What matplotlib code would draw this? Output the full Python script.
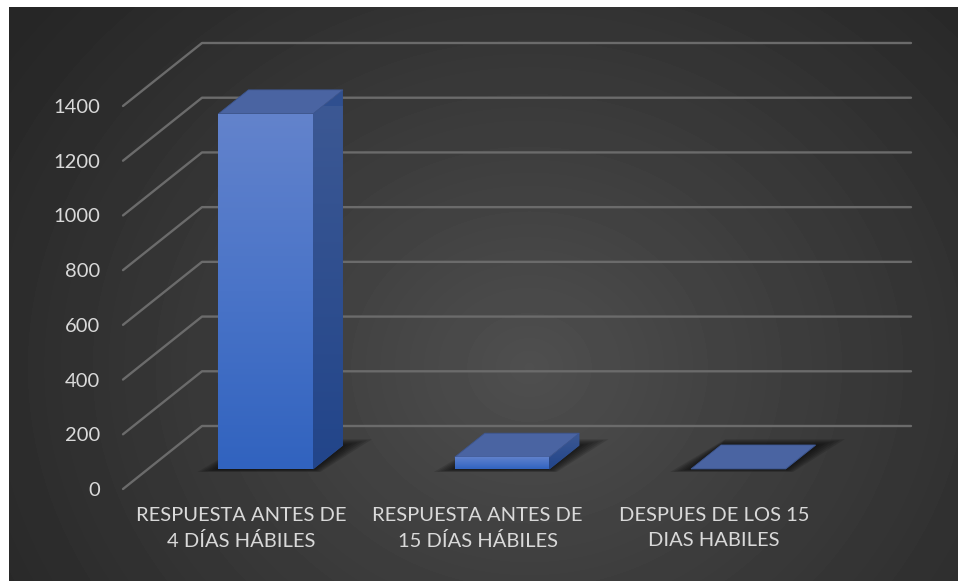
import numpy as np
import matplotlib
matplotlib.use("Agg")
import matplotlib.pyplot as plt
from matplotlib.patches import Polygon
from matplotlib.colors import LinearSegmentedColormap

categories = ["RESPUESTA ANTES DE\n4 DÍAS HÁBILES",
              "RESPUESTA ANTES DE\n15 DÍAS HÁBILES",
              "DESPUES DE LOS 15\nDIAS HABILES"]
values = [1300, 45, 2]
y_ticks = [0, 200, 400, 600, 800, 1000, 1200, 1400]

plt.rcParams['font.family'] = ['Lato', 'DejaVu Sans']

W, H = 958, 581
fig = plt.figure(figsize=(W / 100, H / 100), dpi=100)
fig.patch.set_facecolor("white")

# ---- background with radial gradient ----
bg = fig.add_axes([9 / W, 0, 1 - 9 / W, (H - 7) / H])
bg.set_axis_off()
bh, bw = H - 7, W - 9
yy, xx = np.mgrid[0:bh, 0:bw]
r = np.sqrt(((xx - 520) / 640.0) ** 2 + ((yy - 360) / 560.0) ** 2)
val = 0.15 + 0.16 * np.clip(1 - r, 0, 1) ** 1.1
bg.imshow(val, cmap="gray", vmin=0, vmax=1, aspect="auto", interpolation="bilinear")

# ---- main axes (front plane) ----
ax = fig.add_axes([123 / W, 92 / H, 709 / W, 383 / H])
ax.patch.set_alpha(0)
for s in ax.spines.values():
    s.set_visible(False)
XMIN, XMAX, YMAX = -0.5, 2.5, 1400
DX = 79 / 709 * 3       # depth shift in category units
DY = 63 / 383 * YMAX    # depth shift in value units


def P(x, y, d):
    return (x + d * DX, y + d * DY)


# gridlines: left wall diagonal + back wall horizontal
for v in y_ticks:
    xs, ys = zip(P(XMIN, v, 0), P(XMIN, v, 1), P(XMAX, v, 1))
    ax.plot(xs, ys, color="#6b6b6b", lw=1.7, clip_on=False, zorder=1,
            solid_capstyle="round")

bar_w = 0.40
d0, d1 = 0.31, 0.69
front_cmap = LinearSegmentedColormap.from_list("f", ["#3163bf", "#4a74c8", "#6383cc"])
side_cmap = LinearSegmentedColormap.from_list("s", ["#22458a", "#3d5994"])

for i, v in enumerate(values):
    x0, x1 = i - bar_w / 2, i + bar_w / 2
    # shadow on floor (layers to fake blur)
    for k in range(6):
        e = 0.075 * (1 - k / 6)
        ed = 0.10 * (1 - k / 6)
        poly = [P(x0 - e, 0, d0 - ed * 0.4), P(x1 + e * 0.6, 0, d0 - ed * 0.4),
                P(x1 + e * 1.2, 0, d1 + ed), P(x0 - e * 0.2, 0, d1 + ed)]
        ax.add_patch(Polygon(poly, closed=True, facecolor="black", edgecolor="none",
                             alpha=0.13, zorder=2, clip_on=False))
    # side face
    side = Polygon([P(x1, 0, d0), P(x1, 0, d1), P(x1, v, d1), P(x1, v, d0)],
                   closed=True, facecolor="#2f4f8f", edgecolor="none", zorder=3, clip_on=False)
    ax.add_patch(side)
    if v > 20:
        sx0, sy0 = P(x1, 0, d0)
        sx1, sy1 = P(x1, v, d1)
        im = ax.imshow(np.linspace(0, 1, 100).reshape(-1, 1), cmap=side_cmap, origin="lower",
                       extent=[sx0, sx1, sy0, sy1], aspect="auto", zorder=3.1,
                       interpolation="bilinear")
        im.set_clip_path(side)
    # top face
    top = Polygon([P(x0, v, d0), P(x1, v, d0), P(x1, v, d1), P(x0, v, d1)],
                  closed=True, facecolor="#4a64a2", edgecolor="#3d5690", lw=0.6,
                  zorder=3.2, clip_on=False)
    ax.add_patch(top)
    # front face
    if v > 5:
        front = Polygon([P(x0, 0, d0), P(x1, 0, d0), P(x1, v, d0), P(x0, v, d0)],
                        closed=True, facecolor="#4472c4", edgecolor="none", zorder=3.3,
                        clip_on=False)
        ax.add_patch(front)
        fx0, fy0 = P(x0, 0, d0)
        fx1, fy1 = P(x1, v, d0)
        im = ax.imshow(np.linspace(0, 1, 200).reshape(-1, 1), cmap=front_cmap, origin="lower",
                       extent=[fx0, fx1, fy0, fy1], aspect="auto", zorder=3.4,
                       interpolation="bilinear")
        im.set_clip_path(front)

ax.set_xlim(XMIN, XMAX)
ax.set_ylim(0, YMAX)
ax.set_yticks(y_ticks)
ax.set_yticklabels([str(t) for t in y_ticks])
ax.set_xticks(range(len(categories)))
ax.set_xticklabels(categories, linespacing=1.55)
ax.tick_params(axis="y", length=0, pad=16.5, labelcolor="#d9d9d9", labelsize=14.5)
ax.tick_params(axis="x", length=0, pad=13, labelcolor="#d9d9d9", labelsize=14.5)

fig.savefig("out.png", dpi=100, facecolor=fig.get_facecolor())
